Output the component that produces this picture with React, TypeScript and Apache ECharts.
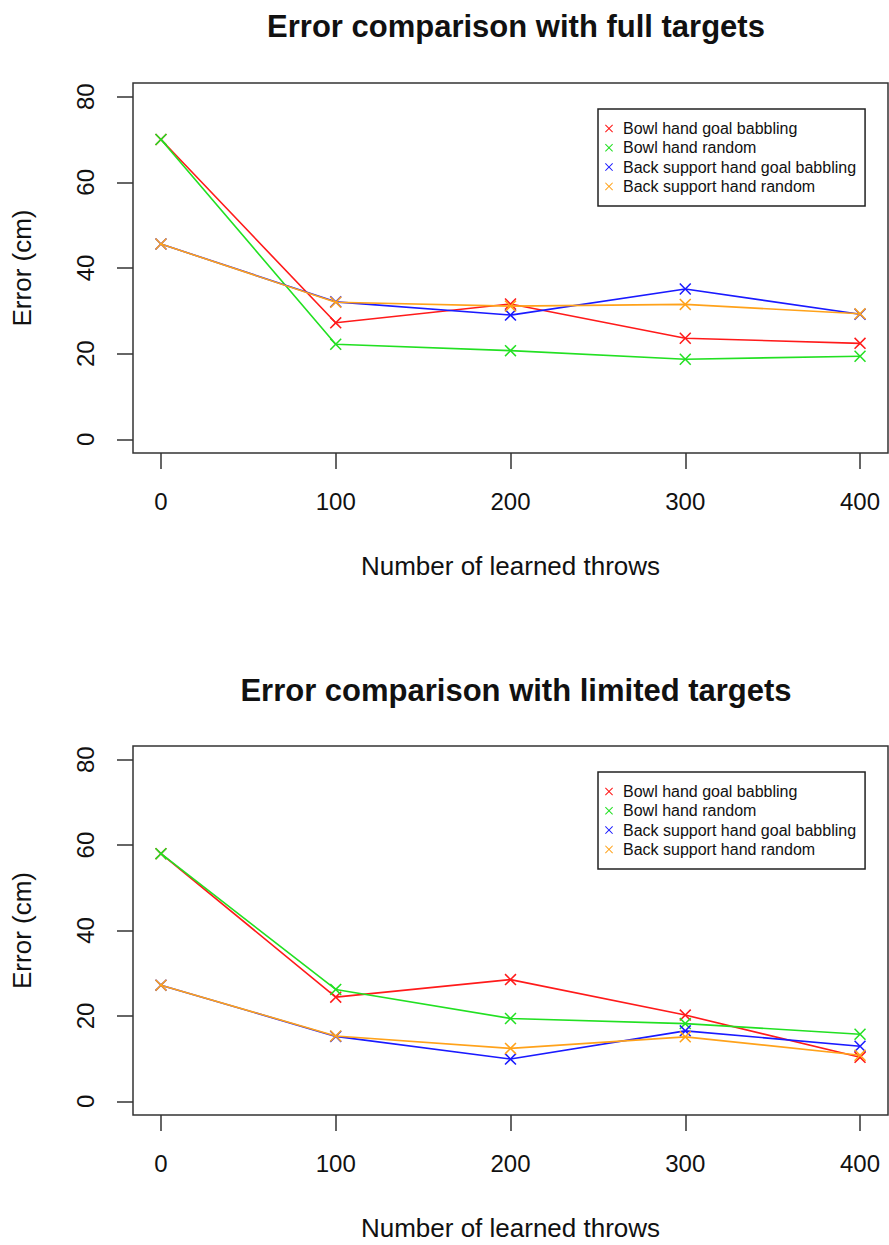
import React, { useEffect, useRef } from "react";
import * as echarts from "echarts";

// Number of learned throws on the x axis
const throws = [0, 100, 200, 300, 400];
const xTicks = [0, 100, 200, 300, 400];
const yTicks = [0, 20, 40, 60, 80];

const seriesNames = [
  "Bowl hand goal babbling",
  "Bowl hand random",
  "Back support hand goal babbling",
  "Back support hand random",
];
const seriesColors = ["#ff1a1a", "#22e022", "#1a1aff", "#ffa21a"];

// Error (cm) with full targets
const bowlGoalFull = [70.0, 27.2, 31.6, 23.6, 22.4];
const bowlRandomFull = [70.0, 22.2, 20.7, 18.7, 19.4];
const backGoalFull = [45.6, 32.1, 29.0, 35.1, 29.2];
const backRandomFull = [45.6, 32.0, 31.1, 31.5, 29.3];

// Error (cm) with limited targets
const bowlGoalLimited = [58.0, 24.4, 28.5, 20.2, 10.3];
const bowlRandomLimited = [58.0, 26.2, 19.4, 18.2, 15.7];
const backGoalLimited = [27.2, 15.2, 9.9, 16.5, 12.9];
const backRandomLimited = [27.2, 15.3, 12.4, 15.1, 10.8];

const FONT = "'Liberation Sans', Arial, Helvetica, sans-serif";
const INK = "#111";
const CROSS =
  "path://M0,9L9,0L50,41L91,0L100,9L59,50L100,91L91,100L50,59L9,100L0,91L41,50Z";

function pairs(values: number[]) {
  return values.map((v, i) => [throws[i], v]);
}

function makeXAxis(gridIndex: number) {
  return {
    type: "value",
    gridIndex,
    min: -16,
    max: 416,
    name: "Number of learned throws",
    nameLocation: "middle",
    nameGap: 100,
    nameTextStyle: { fontSize: 26, color: INK, fontFamily: FONT },
    axisLine: { show: false, onZero: false },
    splitLine: { show: false },
    axisTick: {
      show: true,
      length: 16,
      customValues: xTicks,
      lineStyle: { color: "#333", width: 1.5 },
    },
    axisLabel: {
      customValues: xTicks,
      margin: 36,
      fontSize: 24,
      color: INK,
      fontFamily: FONT,
    },
  };
}

function makeYAxis(gridIndex: number) {
  return {
    type: "value",
    gridIndex,
    min: -3.2,
    max: 83.2,
    name: "Error (cm)",
    nameLocation: "middle",
    nameGap: 98,
    nameRotate: 90,
    nameTextStyle: { fontSize: 26, color: INK, fontFamily: FONT },
    axisLine: { show: false, onZero: false },
    splitLine: { show: false },
    axisTick: {
      show: true,
      length: 16,
      customValues: yTicks,
      lineStyle: { color: "#333", width: 1.5 },
    },
    axisLabel: {
      customValues: yTicks,
      rotate: 90,
      margin: 36,
      fontSize: 24,
      color: INK,
      fontFamily: FONT,
      align: "center",
    },
  };
}

function makeSeries(gridIndex: number, sets: number[][]) {
  return sets.map((values, i) => ({
    type: "line",
    name: seriesNames[i],
    xAxisIndex: gridIndex,
    yAxisIndex: gridIndex,
    data: pairs(values),
    symbol: CROSS,
    symbolSize: 12,
    showSymbol: true,
    color: seriesColors[i],
    lineStyle: { width: 1.6, color: seriesColors[i] },
    itemStyle: { color: seriesColors[i] },
    z: 2 + i,
  }));
}

function makeLegend(top: number) {
  return {
    orient: "vertical",
    left: 598,
    top,
    icon: CROSS,
    itemWidth: 18,
    itemHeight: 8,
    itemGap: 3.3,
    padding: [11.5, 9, 11.5, 7],
    borderColor: "#222",
    borderWidth: 1.5,
    backgroundColor: "#fff",
    selectedMode: false,
    data: seriesNames,
    textStyle: { fontSize: 16, lineHeight: 16, color: INK, fontFamily: FONT },
  };
}

export default function App() {
  const ref = useRef<HTMLDivElement>(null);

  useEffect(() => {
    if (!ref.current) return;
    const chart = echarts.init(ref.current, undefined, { renderer: "svg" });
    chart.setOption({
      animation: false,
      backgroundColor: "#fff",
      textStyle: { fontFamily: FONT },
      title: [
        {
          text: "Error comparison with full targets",
          left: 511,
          top: 6,
          textAlign: "center",
          textStyle: { fontSize: 31, fontWeight: "bold", color: INK, fontFamily: FONT },
        },
        {
          text: "Error comparison with limited targets",
          left: 511,
          top: 670,
          textAlign: "center",
          textStyle: { fontSize: 31, fontWeight: "bold", color: INK, fontFamily: FONT },
        },
      ],
      grid: [
        { left: 133, top: 83, width: 755, height: 370, show: true, borderColor: "#333", borderWidth: 1.5, backgroundColor: "transparent" },
        { left: 133, top: 746, width: 755, height: 369, show: true, borderColor: "#333", borderWidth: 1.5, backgroundColor: "transparent" },
      ],
      xAxis: [makeXAxis(0), makeXAxis(1)],
      yAxis: [makeYAxis(0), makeYAxis(1)],
      legend: [makeLegend(109), makeLegend(772)],
      series: [
        ...makeSeries(0, [bowlGoalFull, bowlRandomFull, backGoalFull, backRandomFull]),
        ...makeSeries(1, [bowlGoalLimited, bowlRandomLimited, backGoalLimited, backRandomLimited]),
      ],
    });
    return () => chart.dispose();
  }, []);

  return (
    <div
      ref={ref}
      style={{ position: "absolute", left: 0, top: 0, width: 889, height: 1245 }}
    />
  );
}
